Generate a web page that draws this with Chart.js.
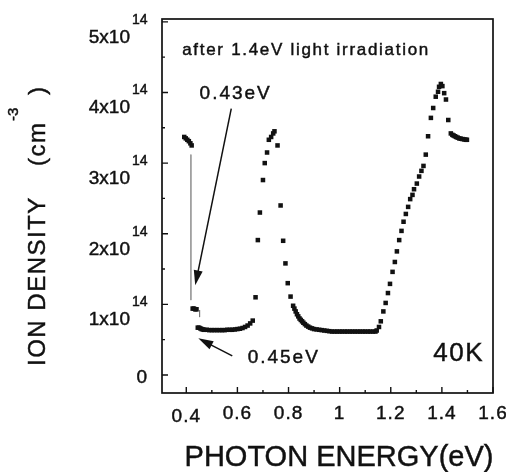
<!DOCTYPE html>
<html>
<head>
<meta charset="utf-8">
<script src="https://cdn.jsdelivr.net/npm/chart.js@4.4.1/dist/chart.umd.min.js"></script>
<style>
  html, body { margin: 0; padding: 0; background: #fff; }
  #wrap { width: 506px; height: 472px; }
</style>
</head>
<body>
<div id="wrap"><canvas id="chart" width="506" height="472"></canvas></div>
<script>
// photon energy (eV) and ion density (x10^14 cm^-3)
const energy = [
  // before the jump
  0.392, 0.398, 0.404, 0.410, 0.416, 0.421,
  // 0.43 eV step
  0.425, 0.430, 0.435, 0.440,
  // low plateau from 0.45 eV
  0.445, 0.450, 0.455, 0.460, 0.465, 0.47, 0.48, 0.49, 0.50, 0.51, 0.52, 0.53,
  0.54, 0.55, 0.56, 0.57, 0.58, 0.59, 0.60, 0.61, 0.62, 0.63, 0.64, 0.65, 0.66,
  // peak near 0.75 eV
  0.671, 0.680, 0.688, 0.700, 0.707, 0.716, 0.723, 0.732, 0.740, 0.745, 0.757,
  0.769, 0.779, 0.788, 0.797, 0.808, 0.818,
  // decay into the wide plateau
  0.823, 0.828, 0.833, 0.838, 0.843, 0.848, 0.853, 0.858, 0.864, 0.870, 0.877,
  0.884, 0.892, 0.90, 0.91, 0.92, 0.93, 0.94, 0.95, 0.96, 0.97, 0.98, 0.99,
  1.00, 1.01, 1.02, 1.03, 1.04, 1.05, 1.06, 1.07, 1.08, 1.09, 1.10, 1.11, 1.12,
  1.13, 1.14,
  // rise to the 1.4 eV peak
  1.145, 1.154, 1.161, 1.171, 1.180, 1.189, 1.197, 1.207, 1.216, 1.224, 1.233,
  1.242, 1.250, 1.259, 1.268, 1.276, 1.285, 1.291, 1.302, 1.311, 1.320, 1.328,
  1.337, 1.346, 1.357, 1.366, 1.376, 1.385, 1.389, 1.396, 1.402, 1.409, 1.416,
  1.425, 1.435, 1.441, 1.446, 1.451, 1.456, 1.462, 1.468, 1.474, 1.481, 1.488,
  1.494, 1.498
];
const density = [
  3.37, 3.35, 3.33, 3.31, 3.28, 3.25,
  0.94, 0.94, 0.93, 0.93,
  0.67, 0.67, 0.66, 0.65, 0.645, 0.64, 0.64, 0.635, 0.635, 0.635, 0.635, 0.635,
  0.635, 0.635, 0.64, 0.64, 0.64, 0.645, 0.65, 0.655, 0.665, 0.68, 0.70, 0.73, 0.77,
  1.10, 1.91, 2.30, 2.76, 3.00, 3.15, 3.33, 3.37, 3.42, 3.45, 3.25,
  2.40, 1.90, 1.58, 1.30, 1.11, 0.98,
  0.94, 0.90, 0.86, 0.83, 0.80, 0.78, 0.76, 0.74, 0.72, 0.70, 0.685,
  0.67, 0.66, 0.65, 0.645, 0.64, 0.635, 0.63, 0.625, 0.62, 0.615, 0.615, 0.615,
  0.615, 0.615, 0.615, 0.615, 0.615, 0.615, 0.615, 0.615, 0.615, 0.615, 0.615, 0.615, 0.615,
  0.615, 0.615,
  0.63, 0.68, 0.76, 0.90, 1.02, 1.16, 1.29, 1.46, 1.60, 1.75, 1.91,
  2.04, 2.17, 2.28, 2.38, 2.49, 2.55, 2.63, 2.71, 2.81, 2.89, 2.96,
  3.12, 3.38, 3.64, 3.78, 3.94, 4.01, 4.08, 4.12, 4.09, 3.99, 3.90,
  3.61, 3.42, 3.40, 3.39, 3.38, 3.37, 3.36, 3.35, 3.345, 3.34, 3.335,
  3.33, 3.33
];
// thin connecting strokes at the two jumps
const jumpEnergy = [0.418, 0.418];
const jumpDensity = [3.12, 1.06];
const stepEnergy = [0.452, 0.452];
const stepDensity = [0.92, 0.82];

const xTicks = [0.4, 0.6, 0.8, 1, 1.2, 1.4, 1.6];
const xMinorTicks = [0.5, 0.7, 0.9, 1.1, 1.3, 1.5];
const yTicks = [0, 1, 2, 3, 4, 5];
const yMinorTicks = [0.5, 1.5, 2.5, 3.5, 4.5];

const FONT = '"Liberation Sans", Arial, Helvetica, sans-serif';
const INK = '#111';

const pts = energy.map((e, i) => ({ x: e, y: density[i] }));
const jump = jumpEnergy.map((e, i) => ({ x: e, y: jumpDensity[i] }));
const step = stepEnergy.map((e, i) => ({ x: e, y: stepDensity[i] }));

// scanned print looks a bit heavy, so fill + thin stroke
function text(ctx, str, x, y, size, align, ls) {
  ctx.font = size + 'px ' + FONT;
  ctx.letterSpacing = (ls || 0) + 'px';
  ctx.textAlign = align || 'left';
  ctx.textBaseline = 'alphabetic';
  ctx.lineWidth = 0.45;
  ctx.fillText(str, x, y);
  ctx.strokeText(str, x, y);
}

function arrow(ctx, x1, y1, x2, y2) {
  const a = Math.atan2(y2 - y1, x2 - x1);
  const len = 15, half = 4.5;
  ctx.beginPath();
  ctx.moveTo(x1, y1);
  ctx.lineTo(x2 - Math.cos(a) * len * 0.8, y2 - Math.sin(a) * len * 0.8);
  ctx.lineWidth = 1.5;
  ctx.stroke();
  ctx.beginPath();
  ctx.moveTo(x2, y2);
  ctx.lineTo(x2 - Math.cos(a) * len - Math.sin(a) * half, y2 - Math.sin(a) * len + Math.cos(a) * half);
  ctx.lineTo(x2 - Math.cos(a) * len + Math.sin(a) * half, y2 - Math.sin(a) * len - Math.cos(a) * half);
  ctx.closePath();
  ctx.fill();
}

const decorations = {
  id: 'decorations',
  afterDraw(chart) {
    const { ctx, chartArea: a, scales: { x, y } } = chart;
    ctx.save();
    ctx.fillStyle = INK;
    ctx.strokeStyle = INK;

    // frame
    ctx.lineWidth = 1.7;
    ctx.strokeRect(a.left, a.top, a.right - a.left, a.bottom - a.top);

    // inward ticks
    ctx.lineWidth = 1.4;
    ctx.beginPath();
    xTicks.forEach(v => { const px = x.getPixelForValue(v); ctx.moveTo(px, a.bottom); ctx.lineTo(px, a.bottom - 6); });
    xMinorTicks.forEach(v => { const px = x.getPixelForValue(v); ctx.moveTo(px, a.bottom); ctx.lineTo(px, a.bottom - 3); });
    yTicks.forEach(v => { const py = y.getPixelForValue(v); ctx.moveTo(a.left, py); ctx.lineTo(a.left + 6, py); });
    yMinorTicks.forEach(v => { const py = y.getPixelForValue(v); ctx.moveTo(a.left, py); ctx.lineTo(a.left + 3, py); });
    ctx.stroke();

    // x tick labels
    xTicks.forEach(v => {
      const px = x.getPixelForValue(v);
      text(ctx, String(v), px, v === 0.4 ? 422 : 419, 19, 'center', 1);
    });

    // y tick labels with superscript exponent
    yTicks.forEach(v => {
      const py = y.getPixelForValue(v);
      if (v === 0) {
        text(ctx, '0', 147, py + 8, 19, 'right', 0);
      } else {
        text(ctx, v + 'x10', 130, py + 21, 19, 'right', 0);
        text(ctx, '14', 132, py + 2, 14, 'left', 0);
      }
    });

    // axis titles
    text(ctx, 'PHOTON ENERGY(eV)', 339, 466, 29, 'center', 0);
    ctx.save();
    ctx.translate(45, 0);
    ctx.rotate(-Math.PI / 2);
    text(ctx, 'ION DENSITY', -366, 0, 24, 'left', 1.5);
    text(ctx, '(cm', -166, 0, 24, 'left', 1.5);
    text(ctx, '-3', -121, -27, 15, 'left', 0);
    text(ctx, ')', -95, 0, 24, 'left', 0);
    ctx.restore();

    // annotations
    text(ctx, 'after 1.4eV light irradiation', x.getPixelForValue(0.384), y.getPixelForValue(4.53), 17, 'left', 1.7);
    text(ctx, '0.43eV', x.getPixelForValue(0.452), y.getPixelForValue(3.91), 19, 'left', 2);
    text(ctx, '0.45eV', x.getPixelForValue(0.640), y.getPixelForValue(0.17), 19, 'left', 2);
    text(ctx, '40K', x.getPixelForValue(1.565), y.getPixelForValue(0.20), 26, 'right', 1.5);
    arrow(ctx, x.getPixelForValue(0.576), y.getPixelForValue(3.77), x.getPixelForValue(0.435), y.getPixelForValue(1.27));
    arrow(ctx, x.getPixelForValue(0.580), y.getPixelForValue(0.27), x.getPixelForValue(0.447), y.getPixelForValue(0.52));

    ctx.restore();
  }
};

new Chart(document.getElementById('chart'), {
  type: 'scatter',
  data: {
    datasets: [
      {
        data: pts,
        pointStyle: 'rect',
        pointRadius: 3.2,
        pointBackgroundColor: INK,
        pointBorderWidth: 0,
        showLine: false
      },
      {
        data: jump,
        showLine: true,
        borderColor: '#9a9a9a',
        borderWidth: 1,
        pointRadius: 0
      },
      {
        data: step,
        showLine: true,
        borderColor: '#777',
        borderWidth: 1,
        pointRadius: 0
      }
    ]
  },
  options: {
    responsive: false,
    animation: false,
    devicePixelRatio: 1,
    layout: { padding: { left: 162, top: 19, right: 13, bottom: 79 } },
    plugins: { legend: { display: false }, tooltip: { enabled: false } },
    scales: {
      x: { type: 'linear', min: 0.305, max: 1.6, display: false },
      y: { type: 'linear', min: -0.255, max: 5.04, display: false }
    }
  },
  plugins: [decorations]
});
</script>
</body>
</html>
